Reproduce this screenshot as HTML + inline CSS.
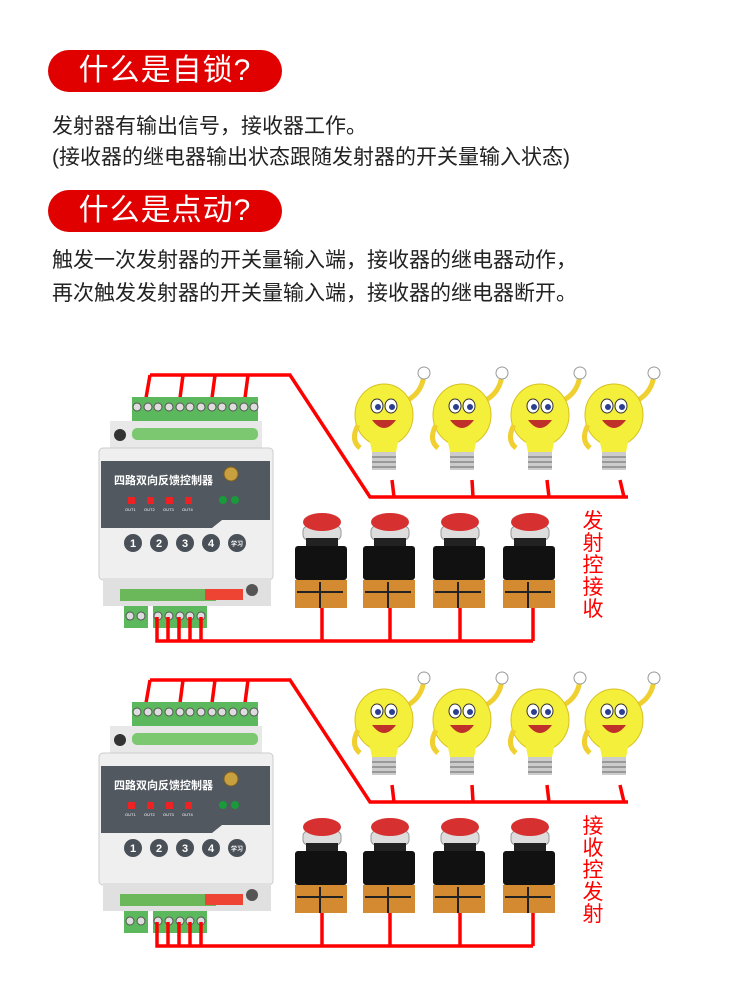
<!DOCTYPE html>
<html><head><meta charset="utf-8">
<style>
body{margin:0;width:750px;height:1000px;background:#fff;overflow:hidden;position:relative;font-family:"Liberation Sans","Noto Sans CJK SC",sans-serif;}
.pill{position:absolute;left:48px;width:234px;height:42px;background:#e00000;border-radius:21px;color:#fff;font-size:30px;line-height:42px;text-align:center;letter-spacing:1px;}
.t{position:absolute;left:52px;font-size:21px;color:#222;white-space:nowrap;}
svg{position:absolute;left:0;top:0}
</style></head><body>
<div class="pill" style="top:50px">什么是自锁?</div>
<div class="t" style="top:110px">发射器有输出信号，接收器工作。</div>
<div class="t" style="top:141px">(接收器的继电器输出状态跟随发射器的开关量输入状态)</div>
<div class="pill" style="top:190px">什么是点动?</div>
<div class="t" style="top:244px">触发一次发射器的开关量输入端，接收器的继电器动作，</div>
<div class="t" style="top:277px">再次触发发射器的开关量输入端，接收器的继电器断开。</div>

<svg width="750" height="1000" xmlns="http://www.w3.org/2000/svg" xmlns:xlink="http://www.w3.org/1999/xlink">
<defs>
<g id="bulb">
  <path d="M24,-20 Q38,-28 40,-45" stroke="#f0d030" stroke-width="5" fill="none"/>
  <circle cx="40" cy="-47" r="6" fill="#fff" stroke="#999"/>
  <ellipse cx="0" cy="-5" rx="29" ry="31" fill="#f3ef3a" stroke="#d8c020"/>
  <path d="M-15,18 L15,18 L12,32 L-12,32Z" fill="#f3ef3a"/>
  <rect x="-12" y="32" width="24" height="18" fill="#ccc"/>
  <path d="M-12,37H12M-12,42H12M-12,47H12" stroke="#888" stroke-width="1.5"/>
  <path d="M-26,5 Q-34,20 -24,28" stroke="#f0d030" stroke-width="5" fill="none"/>
  <ellipse cx="-7" cy="-14" rx="6" ry="7" fill="#fff" stroke="#333"/>
  <ellipse cx="7" cy="-14" rx="6" ry="7" fill="#fff" stroke="#333"/>
  <circle cx="-6" cy="-13" r="3" fill="#2a3f8f"/><circle cx="8" cy="-13" r="3" fill="#2a3f8f"/>
  <path d="M-12,0 Q0,16 12,0 Z" fill="#c0302a"/>
</g>
<g id="btn">
  <rect x="-19" y="4" width="38" height="14" rx="5" fill="#ddd" stroke="#999"/>
  <ellipse cx="0" cy="0" rx="19" ry="9" fill="#d63030"/>
  <rect x="-16" y="16" width="32" height="10" fill="#222"/>
  <rect x="-27" y="24" width="52" height="34" rx="3" fill="#111"/>
  <rect x="-27" y="58" width="52" height="28" fill="#d48a30"/>
  <path d="M-25,70h46M-2,60v26" stroke="#222" stroke-width="2"/>
</g>
<g id="grp">
  <path d="M150,375 H290 L370,497 H628" stroke="#f00" stroke-width="3.5" fill="none"/>
  <path d="M150,375 L146,398 M183,375 L180,398 M215,375 L212,398 M248,375 L245,398" stroke="#f00" stroke-width="3.5"/>
  <rect x="132" y="397" width="126" height="24" fill="#5cb85c"/>
  <g fill="#ddd" stroke="#555" stroke-width="1">
   <circle cx="137" cy="407" r="4"/><circle cx="148" cy="407" r="4"/><circle cx="158" cy="407" r="4"/><circle cx="169" cy="407" r="4"/><circle cx="180" cy="407" r="4"/><circle cx="190" cy="407" r="4"/><circle cx="201" cy="407" r="4"/><circle cx="212" cy="407" r="4"/><circle cx="222" cy="407" r="4"/><circle cx="233" cy="407" r="4"/><circle cx="244" cy="407" r="4"/><circle cx="254" cy="407" r="4"/>
  </g>
  <rect x="110" y="421" width="152" height="28" fill="#e8e8e8"/>
  <rect x="132" y="428" width="126" height="12" rx="5" fill="#7cc870"/>
  <circle cx="120" cy="435" r="6" fill="#333"/>
  <rect x="99" y="448" width="174" height="132" rx="4" fill="#efefef" stroke="#ccc"/>
  <path d="M101,461 H270 V520 H222 L212,528 H101Z" fill="#515860"/>
  <circle cx="231" cy="474" r="7" fill="#c8a040" stroke="#806020"/>
  <rect x="128" y="497" width="7" height="7" fill="#e22"/><rect x="147" y="497" width="7" height="7" fill="#e22"/><rect x="166" y="497" width="7" height="7" fill="#e22"/><rect x="185" y="497" width="7" height="7" fill="#e22"/>
  <circle cx="223" cy="500" r="4" fill="#1a9a3a"/><circle cx="235" cy="500" r="4" fill="#1a9a3a"/>
  <g fill="#4a5058"><circle cx="133" cy="543" r="9"/><circle cx="159" cy="543" r="9"/><circle cx="185" cy="543" r="9"/><circle cx="211" cy="543" r="9"/><circle cx="237" cy="543" r="9"/></g>
  <rect x="103" y="578" width="168" height="28" fill="#e0e0e0"/>
  <rect x="120" y="589" width="96" height="12" fill="#6ab85a"/>
  <rect x="205" y="589" width="38" height="11" fill="#e43"/>
  <circle cx="252" cy="590" r="6" fill="#555"/>
  <rect x="124" y="606" width="24" height="22" fill="#5cb85c"/>
  <rect x="153" y="606" width="54" height="22" fill="#5cb85c"/>
  <g fill="#ddd" stroke="#555"><circle cx="130" cy="616" r="4"/><circle cx="141" cy="616" r="4"/><circle cx="158" cy="616" r="4"/><circle cx="169" cy="616" r="4"/><circle cx="180" cy="616" r="4"/><circle cx="190" cy="616" r="4"/><circle cx="201" cy="616" r="4"/></g>
  <path d="M157,617 V641 H533 M168,617 V641 M179,617 V641 M190,617 V641 M201,617 V641 M322,605 V641 M390,605 V641 M460,605 V641 M533,605 V641" stroke="#f00" stroke-width="3.5" fill="none"/>
  <path d="M392,480 L394,497 M472,480 L473,497 M547,480 L549,497 M620,480 L624,497" stroke="#f00" stroke-width="3.5"/>
  <use xlink:href="#bulb" x="384" y="420"/>
  <use xlink:href="#bulb" x="462" y="420"/>
  <use xlink:href="#bulb" x="540" y="420"/>
  <use xlink:href="#bulb" x="614" y="420"/>
  <use xlink:href="#btn" x="322" y="522"/>
  <use xlink:href="#btn" x="390" y="522"/>
  <use xlink:href="#btn" x="460" y="522"/>
  <use xlink:href="#btn" x="530" y="522"/>
</g>
</defs>
<use xlink:href="#grp"/>
<use xlink:href="#grp" y="305"/>
<g font-family="Liberation Sans,Noto Sans CJK SC,sans-serif">
 <text x="114" y="484" font-size="11" fill="#fff" font-weight="bold">四路双向反馈控制器</text>
 <text x="114" y="789" font-size="11" fill="#fff" font-weight="bold">四路双向反馈控制器</text>
 <g font-size="4" fill="#fff"><text x="125" y="511">OUT1</text><text x="144" y="511">OUT2</text><text x="163" y="511">OUT3</text><text x="182" y="511">OUT4</text>
 <text x="125" y="816">OUT1</text><text x="144" y="816">OUT2</text><text x="163" y="816">OUT3</text><text x="182" y="816">OUT4</text></g>
 <g font-size="11" fill="#fff" font-weight="bold" text-anchor="middle">
  <text x="133" y="547">1</text><text x="159" y="547">2</text><text x="185" y="547">3</text><text x="211" y="547">4</text><text x="237" y="546" font-size="6">学习</text>
  <text x="133" y="852">1</text><text x="159" y="852">2</text><text x="185" y="852">3</text><text x="211" y="852">4</text><text x="237" y="851" font-size="6">学习</text>
 </g>
 <g font-size="21" fill="#f00" text-anchor="middle">
  <text x="593" y="528">发</text><text x="593" y="550">射</text><text x="593" y="572">控</text><text x="593" y="594">接</text><text x="593" y="616">收</text>
  <text x="593" y="833">接</text><text x="593" y="855">收</text><text x="593" y="877">控</text><text x="593" y="899">发</text><text x="593" y="921">射</text>
 </g>
</g>
</svg>
</body></html>
